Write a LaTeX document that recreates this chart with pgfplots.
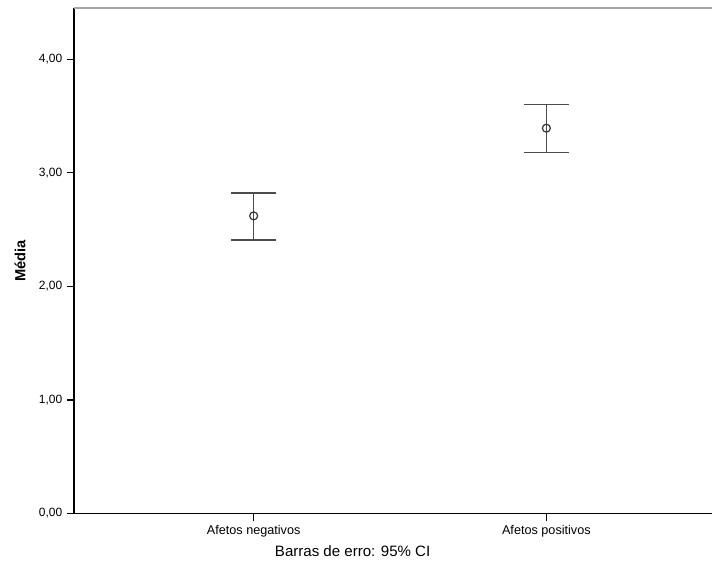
\documentclass[border=0pt]{standalone}
\usepackage{fontspec}
\setmainfont{Liberation Sans}
\usepackage{pgfplots}
\pgfplotsset{compat=1.18}
\begin{document}
\begin{tikzpicture}
\begin{axis}[
  scale only axis,
  width=479.25pt, height=379.5pt,
  xmin=-0.614, xmax=1.567,
  ymin=0, ymax=4.45,
  clip=false,
  axis x line=bottom, axis y line=left,
  axis line style={-, black, line width=0.9pt},
  xtick={0,1}, xticklabels={Afetos negativos, Afetos positivos},
  ytick={0,1,2,3,4},
  yticklabel={\pgfmathprintnumber[fixed,fixed zerofill,precision=2,use comma,assume math mode=true]{\tick}},
  tick align=outside,
  major tick length=5.25pt,
  tick style={black, line width=0.9pt},
  tick label style={font=\fontsize{9}{10}\selectfont},
  xticklabel style={font=\fontsize{9.5}{10}\selectfont},
  ylabel={Média},
  every axis y label/.style={at={(rel axis cs:0,0.5)}, xshift=-40.5pt, rotate=90, anchor=center, font=\bfseries\fontsize{11}{12}\selectfont},
]
\addplot[only marks, mark=o, mark size=3pt, black!80, line width=0.9pt,
  error bars/.cd, y dir=both, y explicit,
  error bar style={black!70, line width=1pt},
  error mark options={rotate=90, mark size=16.9pt, line width=1pt, black!70}]
coordinates {(0,2.62) += (0,0.20) -= (0,0.213) (1,3.392) += (0,0.211) -= (0,0.214)};
\draw[gray!70, line width=1pt] (rel axis cs:0,1) -- (rel axis cs:1,1);
\node[font=\fontsize{11.3}{13}\selectfont] at (rel axis cs:0.4366,0) [yshift=-28.5pt] {Barras de erro: 95\% CI};
\path (rel axis cs:0,0) ++(-55.5pt,-37.5pt);
\path (rel axis cs:1,1) ++(0pt,6pt);
\end{axis}
\end{tikzpicture}
\end{document}
